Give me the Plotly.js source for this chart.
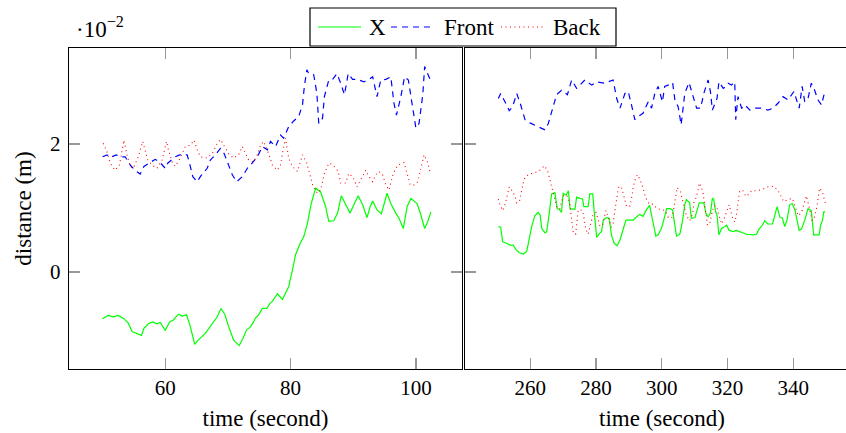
<!DOCTYPE html>
<html>
<head>
<meta charset="utf-8">
<script src="https://cdn.plot.ly/plotly-3.0.1.min.js"></script>
<style>
html,body{margin:0;padding:0;overflow:hidden;background:#fff;}
#chart{width:860px;height:433px;}
</style>
</head>
<body>
<div id="chart"></div>
<script>
const leftXTime = [49.97,50.9,51.7,52.5,53.4,54.1,54.7,55.4,56.2,56.6,57.3,58.0,58.7,59.2,60.0,60.7,61.3,62.1,62.7,63.4,64.0,64.7,65.3,66.4,67.6,68.3,68.9,69.5,70.1,70.9,71.8,72.4,73.0,73.5,74.1,74.4,74.9,75.5,76.2,76.7,77.1,77.9,78.7,79.7,80.3,80.8,81.5,82.1,82.7,83.3,84.0,84.8,85.6,86.1,86.9,87.5,88.1,88.8,89.5,90.1,90.8,91.5,92.2,92.7,93.1,93.8,94.5,95.4,96.0,96.8,97.3,98.0,98.6,99.2,100.2,100.8,101.4,101.9,102.4];
const leftXVal = [-0.73,-0.68,-0.70,-0.68,-0.73,-0.80,-0.93,-0.96,-0.99,-0.88,-0.81,-0.78,-0.81,-0.79,-0.91,-0.78,-0.75,-0.66,-0.69,-0.67,-0.85,-1.13,-1.06,-0.96,-0.80,-0.70,-0.57,-0.66,-0.85,-1.06,-1.15,-1.04,-0.90,-0.87,-0.78,-0.72,-0.67,-0.57,-0.57,-0.49,-0.46,-0.34,-0.43,-0.23,0.03,0.27,0.44,0.55,0.76,1.07,1.31,1.25,1.02,0.79,0.80,0.92,1.19,1.05,0.92,1.05,1.19,1.05,0.85,1.02,1.11,0.97,0.91,1.23,1.07,0.92,0.84,0.68,1.02,1.15,1.07,0.89,0.68,0.79,0.94];
const leftFrontTime = [50.0,50.7,51.2,52.2,52.9,53.6,54.1,54.5,55.4,56.0,56.6,57.2,58.4,59.1,60.0,60.4,61.6,62.3,63.5,64.0,64.4,65.1,65.6,66.7,67.2,68.0,68.8,69.4,70.1,70.7,71.4,72.3,73.1,73.6,74.7,75.5,76.3,76.8,77.6,78.4,78.9,79.7,80.5,81.3,81.9,82.2,82.6,82.9,83.7,84.2,84.5,85.1,85.4,86.1,86.7,87.4,88.0,88.6,89.2,89.9,90.7,91.7,92.5,93.1,93.8,94.4,95.2,96.0,96.5,96.9,97.6,98.2,98.8,99.5,100.0,100.5,101.1,101.4,101.9,102.3];
const leftFrontVal = [1.80,1.83,1.79,1.83,1.80,1.80,1.72,1.66,1.57,1.53,1.65,1.69,1.76,1.72,1.62,1.70,1.80,1.83,1.83,1.65,1.49,1.41,1.49,1.62,1.75,1.83,1.93,1.85,1.67,1.52,1.41,1.49,1.62,1.67,1.80,1.96,1.91,2.04,1.96,2.14,2.09,2.27,2.36,2.43,2.61,2.90,3.16,3.10,3.08,2.79,2.32,2.40,2.74,3.00,3.01,3.10,2.95,2.77,3.10,3.01,3.01,2.97,3.01,3.05,2.74,3.00,3.01,3.05,2.64,2.45,2.74,3.05,3.00,2.58,2.25,2.32,2.77,3.21,3.10,3.00];
const leftBackTime = [50.1,50.7,51.2,52.0,52.7,53.1,53.4,53.9,54.4,54.9,55.7,56.4,57.2,57.9,58.7,59.5,60.2,60.5,61.1,61.6,62.4,63.2,64.0,64.6,65.1,65.6,66.7,67.5,68.3,68.8,69.4,70.1,70.9,71.7,72.3,72.8,73.3,74.1,74.7,75.2,75.7,76.5,77.1,77.9,78.4,78.9,79.2,79.7,80.3,81.1,81.9,82.6,83.1,83.6,84.3,84.8,85.4,86.1,86.8,87.6,88.0,88.8,89.3,89.9,90.6,91.2,92.0,92.5,93.1,93.6,94.1,94.7,95.2,95.7,96.4,97.1,98.1,98.6,99.1,99.7,100.3,100.8,101.3,101.9,102.3];
const leftBackVal = [2.01,1.88,1.70,1.59,1.67,1.91,2.06,1.83,1.65,1.62,1.80,2.04,1.75,1.67,1.62,1.75,2.04,1.91,1.72,1.65,1.78,1.96,1.98,2.06,1.91,1.80,1.78,1.85,2.01,2.07,1.97,1.85,1.78,1.83,1.96,1.85,1.75,1.72,1.83,1.98,2.04,1.85,1.67,1.59,1.67,1.96,2.09,1.78,1.65,1.57,1.83,1.70,1.49,1.33,1.23,1.28,1.54,1.70,1.67,1.57,1.39,1.39,1.54,1.49,1.33,1.44,1.59,1.49,1.41,1.52,1.57,1.52,1.36,1.28,1.54,1.67,1.71,1.54,1.36,1.36,1.41,1.62,1.83,1.70,1.54];
const rightXTime = [250.3,251.0,251.6,252.8,253.8,254.8,255.7,256.7,257.9,258.9,259.4,260.4,261.4,262.4,263.0,263.5,264.5,265.0,265.5,266.0,266.5,267.5,268.2,269.0,269.5,270.0,270.9,271.6,272.1,273.6,274.1,275.1,275.9,276.3,277.6,278.1,279.0,279.5,280.2,281.0,281.7,282.2,283.2,284.0,284.7,285.5,286.4,287.3,288.3,289.1,290.3,291.3,292.3,293.3,294.3,295.3,296.3,297.2,298.2,298.9,299.9,300.6,301.5,302.5,303.3,303.8,304.5,305.5,306.3,307.0,307.5,308.5,309.0,310.1,310.8,311.4,312.8,313.4,314.1,314.8,315.4,315.8,316.4,316.8,317.4,318.2,319.2,319.7,320.5,321.7,322.7,323.7,325.8,327.8,328.8,329.6,330.6,331.3,332.3,333.7,334.4,335.1,335.9,336.7,337.4,338.1,338.9,339.7,340.5,341.2,341.8,342.5,343.5,344.5,345.5,346.2,347.0,347.9,348.3,348.9,349.3,349.7];
const rightXVal = [0.71,0.70,0.47,0.45,0.42,0.42,0.35,0.30,0.28,0.32,0.44,0.70,0.88,0.93,0.89,0.68,0.61,0.63,0.81,1.02,1.22,1.24,0.99,0.97,0.93,1.23,1.20,1.27,0.99,0.98,1.17,1.15,1.14,1.02,1.02,1.22,1.22,0.92,0.54,0.60,0.63,0.81,0.85,0.84,0.58,0.45,0.41,0.50,0.66,0.81,0.81,0.81,0.86,0.90,0.87,0.97,1.04,0.81,0.56,0.58,0.68,0.81,0.99,0.99,0.97,0.79,0.56,0.59,0.79,1.05,1.13,1.08,0.84,0.85,0.97,1.08,1.08,0.92,0.86,0.92,1.15,1.14,0.94,0.89,0.58,0.68,0.71,0.73,0.65,0.63,0.65,0.63,0.59,0.58,0.59,0.67,0.73,0.80,0.75,0.75,0.89,1.02,0.86,0.84,0.71,0.81,1.05,1.07,0.97,0.81,0.65,0.67,0.81,0.99,0.96,0.58,0.58,0.58,0.73,0.81,0.94,0.94];
const rightFrontTime = [250.3,251.0,252.3,253.6,254.6,255.9,257.1,258.4,259.9,261.9,264.5,265.5,266.8,268.0,269.5,271.3,272.6,274.1,275.1,276.6,278.7,280.2,282.7,283.7,285.2,286.3,287.3,288.8,289.8,290.8,291.8,292.8,294.3,295.9,296.9,297.9,298.9,300.2,300.9,301.9,303.3,304.0,305.0,305.9,306.5,307.0,308.3,309.5,310.6,311.8,312.8,314.1,314.8,315.4,316.8,317.4,318.7,319.5,320.2,321.2,322.2,322.5,323.2,324.3,325.3,326.8,328.3,330.3,332.3,333.9,335.4,336.9,338.4,340.2,341.8,342.7,343.5,344.5,345.5,346.5,347.5,348.6,349.6];
const rightFrontVal = [2.71,2.79,2.66,2.52,2.58,2.79,2.61,2.38,2.33,2.28,2.22,2.32,2.56,2.77,2.84,2.77,3.00,2.87,2.92,3.00,2.92,2.97,2.95,2.97,3.00,2.71,2.56,2.79,2.82,2.61,2.38,2.43,2.48,2.66,2.56,2.79,2.90,2.66,2.90,2.92,2.96,2.69,2.58,2.30,2.58,2.79,2.96,2.77,2.56,2.56,2.79,3.00,2.82,2.53,2.71,2.97,2.87,2.90,2.95,2.92,2.97,2.38,2.74,2.56,2.61,2.53,2.56,2.56,2.53,2.56,2.64,2.74,2.69,2.82,2.56,2.90,2.66,2.71,2.95,2.84,2.69,2.61,2.82];
const rightBackTime = [250.3,250.8,251.6,252.3,252.8,253.6,254.5,255.4,255.9,256.7,257.1,257.4,257.9,258.4,259.7,261.4,262.9,264.3,265.3,265.8,266.2,266.8,267.5,268.2,269.0,269.5,270.2,271.1,271.9,272.1,272.6,272.9,273.1,273.8,274.3,274.6,275.3,275.9,276.3,276.6,276.9,277.6,278.1,278.7,279.0,280.0,281.2,282.0,282.4,283.0,284.0,284.7,285.2,285.7,286.3,286.6,287.0,287.8,288.3,288.8,289.3,290.3,290.8,291.1,291.3,291.8,292.6,293.4,294.2,294.6,295.2,296.2,297.4,298.6,299.9,301.2,301.9,303.0,303.5,303.8,304.0,304.3,304.7,305.7,306.1,306.5,307.0,307.5,308.5,309.4,309.8,310.6,311.1,311.4,312.1,312.6,312.9,313.1,313.6,313.9,314.6,314.9,315.4,315.8,316.7,317.1,317.7,318.2,318.9,319.5,319.9,320.5,321.5,322.2,322.7,322.9,323.2,323.4,323.7,324.7,325.6,326.6,327.3,328.8,330.6,332.3,334.1,335.4,336.2,337.1,338.4,339.7,340.4,340.9,341.5,342.5,343.0,343.5,344.0,344.8,345.2,345.7,346.2,346.8,347.2,347.5,348.0,348.9,349.4,349.9];
const rightBackVal = [1.14,1.05,0.96,1.05,1.15,1.33,1.27,1.18,1.08,1.10,1.20,1.29,1.40,1.48,1.53,1.55,1.59,1.66,1.58,1.48,1.39,1.29,1.10,0.99,0.99,1.10,1.20,1.20,1.10,1.02,0.81,0.72,0.61,0.59,0.79,0.97,0.97,0.96,0.86,0.79,0.67,0.59,0.68,0.79,0.88,0.93,0.72,0.73,0.81,0.96,0.81,0.70,0.76,0.96,1.15,1.25,1.34,1.31,1.22,1.13,1.02,1.03,1.13,1.23,1.32,1.43,1.52,1.44,1.33,1.24,1.15,1.06,1.06,0.99,0.98,0.96,0.86,0.84,0.94,1.03,1.13,1.23,1.32,1.25,1.17,1.07,0.97,0.88,0.80,0.91,1.09,1.18,1.29,1.39,1.32,1.22,1.11,1.02,0.82,0.73,0.76,0.85,0.95,1.03,1.03,0.93,0.82,0.75,0.82,0.92,0.96,1.05,0.85,0.78,0.88,0.98,1.08,1.18,1.27,1.27,1.18,1.22,1.27,1.27,1.29,1.33,1.34,1.27,1.19,1.10,1.13,1.15,1.05,0.96,0.88,0.93,1.02,1.11,1.19,1.02,0.91,0.81,0.81,0.92,1.02,1.13,1.31,1.24,1.14,1.05];

const seriesNames = ['X','Front','Back'];
const seriesColors = ['#00ff00','#0000ff','#ff0000'];
const leftTicks = [60,80,100];
const rightTicks = [260,280,300,320,340];
const yTicks = [0,2];

const FONT = 'Liberation Serif';
const dashes = ['solid','6px,5px','1px,3.5px'];
const widths = [1.2,1.2,1.1];

function tr(x,y,i,xa,ya){
  return {x:x,y:y,type:'scatter',mode:'lines',name:seriesNames[i],xaxis:xa,yaxis:ya,
    showlegend:false,line:{color:seriesColors[i],width:widths[i],dash:dashes[i]},hoverinfo:'skip'};
}
const data = [
  tr(leftXTime,leftXVal,0,'x','y'),
  tr(leftFrontTime,leftFrontVal,1,'x','y'),
  tr(leftBackTime,leftBackVal,2,'x','y'),
  tr(rightXTime,rightXVal,0,'x2','y2'),
  tr(rightFrontTime,rightFrontVal,1,'x2','y2'),
  tr(rightBackTime,rightBackVal,2,'x2','y2')
];

const W=860,H=433,ML=69,MR=1,MT=48,MB=64;
const PW=W-ML-MR, PH=H-MT-MB;
const px = v => (v-ML)/PW;            // pixel x -> paper x
const py = v => (H-MB-v)/PH;          // pixel y -> paper y

// Legend box drawn with shapes + annotations (pixel layout of the reference)
const legendBox = {x0:310,x1:616,y0:8,y1:46,mid:27};
const legendSamples = [[318,361],[391,433],[501,545]];
const legendLabelCenters = [377,469,577];

const shapes = [{type:'rect',xref:'paper',yref:'paper',x0:px(legendBox.x0),x1:px(legendBox.x1),
  y0:py(legendBox.y1),y1:py(legendBox.y0),line:{color:'#000',width:1.2},fillcolor:'#fff',layer:'above'}];
const annotations = [];
seriesNames.forEach((n,i)=>{
  shapes.push({type:'line',xref:'paper',yref:'paper',x0:px(legendSamples[i][0]),x1:px(legendSamples[i][1]),
    y0:py(legendBox.mid),y1:py(legendBox.mid),line:{color:seriesColors[i],width:widths[i],dash:dashes[i]},layer:'above'});
  annotations.push({xref:'paper',yref:'paper',x:px(legendLabelCenters[i]),y:py(legendBox.mid+0.5),
    xanchor:'center',yanchor:'middle',text:n,showarrow:false,font:{family:FONT,size:23,color:'#000'}});
});
annotations.push({xref:'paper',yref:'paper',x:px(74),y:py(27),xanchor:'left',yanchor:'middle',
  text:'·10<sup>−2</sup>',showarrow:false,font:{family:FONT,size:23,color:'#000'}});

const axCommon = {showgrid:false,zeroline:false,showline:true,linecolor:'#000',linewidth:1.2,
  ticks:'inside',ticklen:11,tickwidth:1.4,tickcolor:'#999',mirror:'ticks',
  tickfont:{family:FONT,size:21,color:'#000'}};
const layout = {
  width:W,height:H,
  margin:{l:ML,r:MR,t:MT,b:MB,autoexpand:false},
  paper_bgcolor:'#fff',plot_bgcolor:'#fff',
  font:{family:FONT,size:21,color:'#000'},
  showlegend:false,
  xaxis:Object.assign({},axCommon,{domain:[0,px(462)],range:[44.64,107.36],
    tickmode:'array',tickvals:leftTicks,ticktext:leftTicks.map(String),ticklabelstandoff:0,
    title:{text:'time (second)',font:{family:FONT,size:23},standoff:10},anchor:'y'}),
  xaxis2:Object.assign({},axCommon,{domain:[px(465),1],range:[240.15,360],
    tickmode:'array',tickvals:rightTicks,ticktext:rightTicks.map(String),ticklabelstandoff:0,
    title:{text:'time (second)',font:{family:FONT,size:23},standoff:10},anchor:'y2'}),
  yaxis:Object.assign({},axCommon,{range:[-1.516,3.5],tickmode:'array',tickvals:yTicks,
    ticktext:yTicks.map(String),ticklabelstandoff:3,
    title:{text:'distance (m)',font:{family:FONT,size:23},standoff:12},anchor:'x'}),
  yaxis2:Object.assign({},axCommon,{range:[-1.516,3.5],tickmode:'array',tickvals:yTicks,
    showticklabels:false,anchor:'x2'}),
  shapes:shapes,
  annotations:annotations
};
Plotly.newPlot('chart',data,layout,{staticPlot:true,displayModeBar:false});
</script>
</body>
</html>
